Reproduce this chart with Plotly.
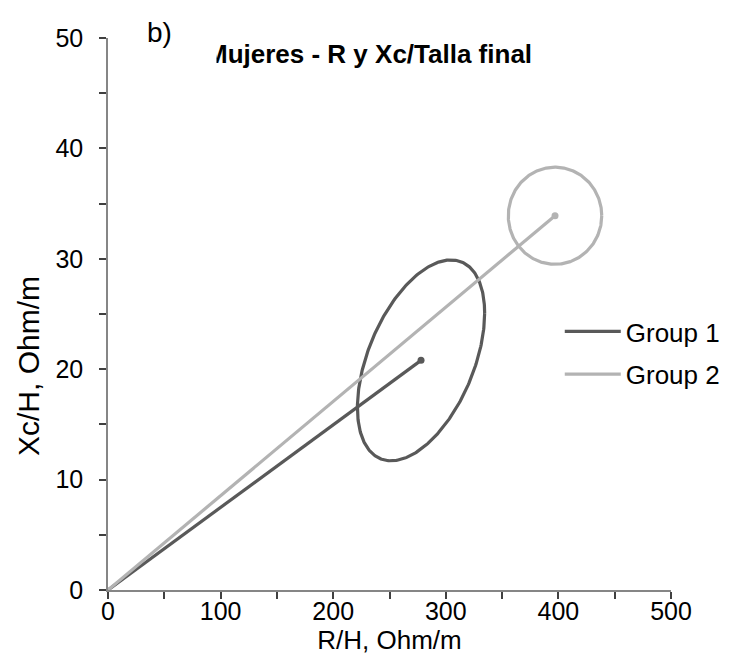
import numpy as np
import plotly.graph_objects as go

# ---- data ----
groups = ["Group 1", "Group 2"]
r_mean = [278, 397]          # R/H, Ohm/m (vector end point / ellipse centre)
xc_mean = [20.8, 33.9]       # Xc/H, Ohm/m
r_half = [56.5, 41.5]        # ellipse half-extent along R/H
xc_half = [9.1, 4.4]         # ellipse half-extent along Xc/H
corr = [0.47, 0.0]           # ellipse tilt (correlation)
colors = ["#595959", "#B3B3B3"]

x_ticks = [0, 100, 200, 300, 400, 500]
y_ticks = [0, 10, 20, 30, 40, 50]

FONT = "Liberation Sans, Arial, sans-serif"

fig = go.Figure()
t = np.linspace(0, 2 * np.pi, 361)
for i, g in enumerate(groups):
    lg = "g%d" % i
    fig.add_trace(go.Scatter(
        x=[0, r_mean[i]], y=[0, xc_mean[i]], mode="lines", name=g, legendgroup=lg,
        line=dict(color=colors[i], width=3.2), showlegend=True))
    fig.add_trace(go.Scatter(
        x=[r_mean[i]], y=[xc_mean[i]], mode="markers", showlegend=False, legendgroup=lg,
        marker=dict(color=colors[i], size=7)))
    phi = np.arccos(corr[i])
    ex = r_mean[i] + r_half[i] * np.cos(t)
    ey = xc_mean[i] + xc_half[i] * np.cos(t + phi)
    fig.add_trace(go.Scatter(
        x=ex, y=ey, mode="lines", showlegend=False, legendgroup=lg,
        line=dict(color=colors[i], width=3.2)))

tick_font = dict(family=FONT, size=25, color="#000000")
title_font = dict(family=FONT, size=26, color="#000000")

W, H = 729, 658
L, R, T, B = 100, 52, 30, 76
pw, ph = W - L - R, H - T - B


def px(xpix):
    return (xpix - L) / pw


def py(ypix):
    return (H - B - ypix) / ph


fig.update_layout(
    width=W, height=H,
    margin=dict(l=L, r=R, t=T, b=B),
    paper_bgcolor="white", plot_bgcolor="white",
    font=tick_font,
    showlegend=True,
    legend=dict(x=px(563), y=py(300), xanchor="left", yanchor="top",
                font=dict(family=FONT, size=26, color="#000"),
                bgcolor="rgba(0,0,0,0)", tracegroupgap=6, itemwidth=56),
    xaxis=dict(range=[0, 500], tickvals=x_ticks, ticktext=[str(v) for v in x_ticks],
               showgrid=False, zeroline=False, showline=True, linecolor="#868686", linewidth=1.5,
               ticks="outside", ticklen=7, tickcolor="#404040", tickwidth=1.5,
               minor=dict(dtick=50, ticks="outside", ticklen=7, tickcolor="#404040", tickwidth=1.5),
               tickfont=tick_font, ticklabelstandoff=-9,
               title=dict(text="R/H, Ohm/m", font=title_font, standoff=6)),
    yaxis=dict(range=[0, 50], tickvals=y_ticks, ticktext=[str(v) for v in y_ticks],
               showgrid=False, zeroline=False, showline=True, linecolor="#868686", linewidth=1.5,
               ticks="outside", ticklen=7, tickcolor="#404040", tickwidth=1.5,
               minor=dict(dtick=5, ticks="outside", ticklen=7, tickcolor="#404040", tickwidth=1.5),
               tickfont=tick_font, ticklabelstandoff=11),
    annotations=[
        dict(text="Xc/H, Ohm/m", xref="paper", yref="paper", x=px(18), y=py(358),
             xanchor="center", yanchor="middle", textangle=-90, showarrow=False,
             font=dict(family=FONT, size=30, color="#000")),
        dict(text="<b>Mujeres - R y Xc/Talla final</b>", xref="paper", yref="paper",
             x=px(198), y=py(46), xanchor="left", yanchor="middle",
             showarrow=False, font=dict(family=FONT, size=26, color="#000")),
        dict(text="b)", xref="paper", yref="paper",
             x=px(139), y=py(8), xanchor="left", yanchor="top",
             showarrow=False, width=69, height=50, align="left", valign="top",
             borderpad=0, bgcolor="white",
             font=dict(family=FONT, size=28, color="#000")),
    ],
)

fig.write_html("out.html")
